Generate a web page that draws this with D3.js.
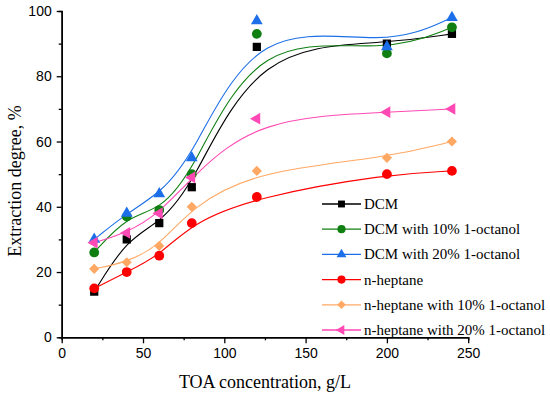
<!DOCTYPE html>
<html>
<head>
<meta charset="utf-8">
<script src="https://cdn.jsdelivr.net/npm/d3@7"></script>
<style>
  body { margin: 0; background: #fff; }
  #viz { width: 550px; height: 399px; }
</style>
</head>
<body>
<div id="viz"></div>
<script>
//Datos
const toa = [20, 40, 60, 80, 120, 200, 240];
const names = ['DCM', 'DCM with 10% 1-octanol', 'DCM with 20% 1-octanol',
  'n-heptane', 'n-heptane with 10% 1-octanol', 'n-heptane with 20% 1-octanol'];
const dcm = [14, 30, 35, 46, 89, 90, 93];
const dcm10 = [26, 37, 39, 50, 93, 87, 95];
const dcm20 = [30, 38, 44, 55, 97, 89, 98];
const hep = [15, 20, 25, 35, 43, 50, 51];
const hep10 = [21, 23, 28, 40, 51, 55, 60];
const hep20 = [29, 32, 38, 49, 67, 69, 70];
const xTicks = [0, 50, 100, 150, 200, 250];
const yTicks = [0, 20, 40, 60, 80, 100];

//Colores fijos
const COLORS = ['#000000', '#0f7f12', '#1c6fe8', '#ff0000', '#ffa864', '#ff49b4'];
const SYMBOLS = ['square', 'circle', 'triangle', 'circle', 'diamond', 'left'];

const allSeries = [dcm, dcm10, dcm20, hep, hep10, hep20];

let svg = d3.select('#viz').append('svg')
  .attr('width', 550)
  .attr('height', 399);

let x = d3.scaleLinear().domain([0, 250]).range([61.7, 468.2]);
let y = d3.scaleLinear().domain([0, 100]).range([337.3, 11]);

// Ejes
function styleAxis(g) {
  g.selectAll('path.domain').attr('stroke', '#000').attr('stroke-width', 1.5);
  g.selectAll('.tick line').attr('stroke', '#000').attr('stroke-width', 1.3);
  g.selectAll('.tick text')
    .attr('fill', '#000')
    .style('font-family', '"Liberation Sans", Arial, sans-serif')
    .style('font-size', '14px');
}

svg.append('g')
  .attr('transform', 'translate(0,' + y(0) + ')')
  .call(d3.axisBottom(x).tickValues(d3.range(25, 250, 50)).tickSize(3).tickFormat(''))
  .call(styleAxis);
svg.append('g')
  .attr('transform', 'translate(0,' + y(0) + ')')
  .call(d3.axisBottom(x).tickValues(xTicks).tickSize(6).tickSizeOuter(0).tickPadding(5))
  .call(styleAxis);

svg.append('g')
  .attr('transform', 'translate(' + x(0) + ',0)')
  .call(d3.axisLeft(y).tickValues(d3.range(10, 100, 20)).tickSize(3).tickFormat(''))
  .call(styleAxis);
svg.append('g')
  .attr('transform', 'translate(' + x(0) + ',0)')
  .call(d3.axisLeft(y).tickValues(yTicks).tickSize(5).tickSizeOuter(0).tickPadding(5))
  .call(styleAxis);

// Títulos
svg.append('text')
  .attr('x', (x(0) + x(250)) / 2)
  .attr('y', 388)
  .attr('text-anchor', 'middle')
  .style('font-family', '"Liberation Serif", "Times New Roman", serif')
  .style('font-size', '18px')
  .text('TOA concentration, g/L');

svg.append('text')
  .attr('transform', 'translate(21,181)rotate(-90)')
  .attr('text-anchor', 'middle')
  .style('font-family', '"Liberation Serif", "Times New Roman", serif')
  .style('font-size', '18px')
  .text('Extraction degree, %');

// Marcadores
function symbolPath(kind, scale) {
  let s = scale || 1;
  if (kind == 'square') return d3.symbol(d3.symbolSquare, 68 * s)();
  if (kind == 'circle') return d3.symbol(d3.symbolCircle, 75 * s)();
  if (kind == 'diamond') return d3.symbol(d3.symbolSquare, 52 * s)();
  return d3.symbol(d3.symbolTriangle, 60 * s)();
}
function symbolRotate(kind) {
  if (kind == 'diamond') return 45;
  if (kind == 'left') return -90;
  return 0;
}

let line = d3.line()
  .x(function(d, i) { return x(toa[i]); })
  .y(function(d) { return y(d); })
  .curve(d3.curveBasis);

allSeries.forEach(function(vals, k) {
  svg.append('path')
    .datum(vals)
    .attr('fill', 'none')
    .attr('stroke', COLORS[k])
    .attr('stroke-width', 1.1)
    .attr('d', line);
});

allSeries.forEach(function(vals, k) {
  svg.selectAll('.pt' + k)
    .data(vals)
    .enter()
    .append('path')
    .attr('class', 'pt' + k)
    .attr('fill', COLORS[k])
    .attr('d', symbolPath(SYMBOLS[k]))
    .attr('transform', function(d, i) {
      return 'translate(' + x(toa[i]) + ',' + y(d) + ')rotate(' + symbolRotate(SYMBOLS[k]) + ')';
    });
});

// Leyenda
let legend = svg.append('g').attr('transform', 'translate(322,204)');
names.forEach(function(n, k) {
  let row = legend.append('g').attr('transform', 'translate(0,' + (k * 25.2) + ')');
  row.append('line')
    .attr('x1', 0).attr('x2', 39)
    .attr('stroke', COLORS[k]).attr('stroke-width', 1.3);
  row.append('path')
    .attr('fill', COLORS[k])
    .attr('d', symbolPath(SYMBOLS[k], 0.7))
    .attr('transform', 'translate(19.5,0)rotate(' + symbolRotate(SYMBOLS[k]) + ')');
  row.append('text')
    .attr('x', 42)
    .attr('y', 5)
    .style('font-family', '"Liberation Serif", "Times New Roman", serif')
    .style('font-size', '15px')
    .text(n);
});
</script>
</body>
</html>
